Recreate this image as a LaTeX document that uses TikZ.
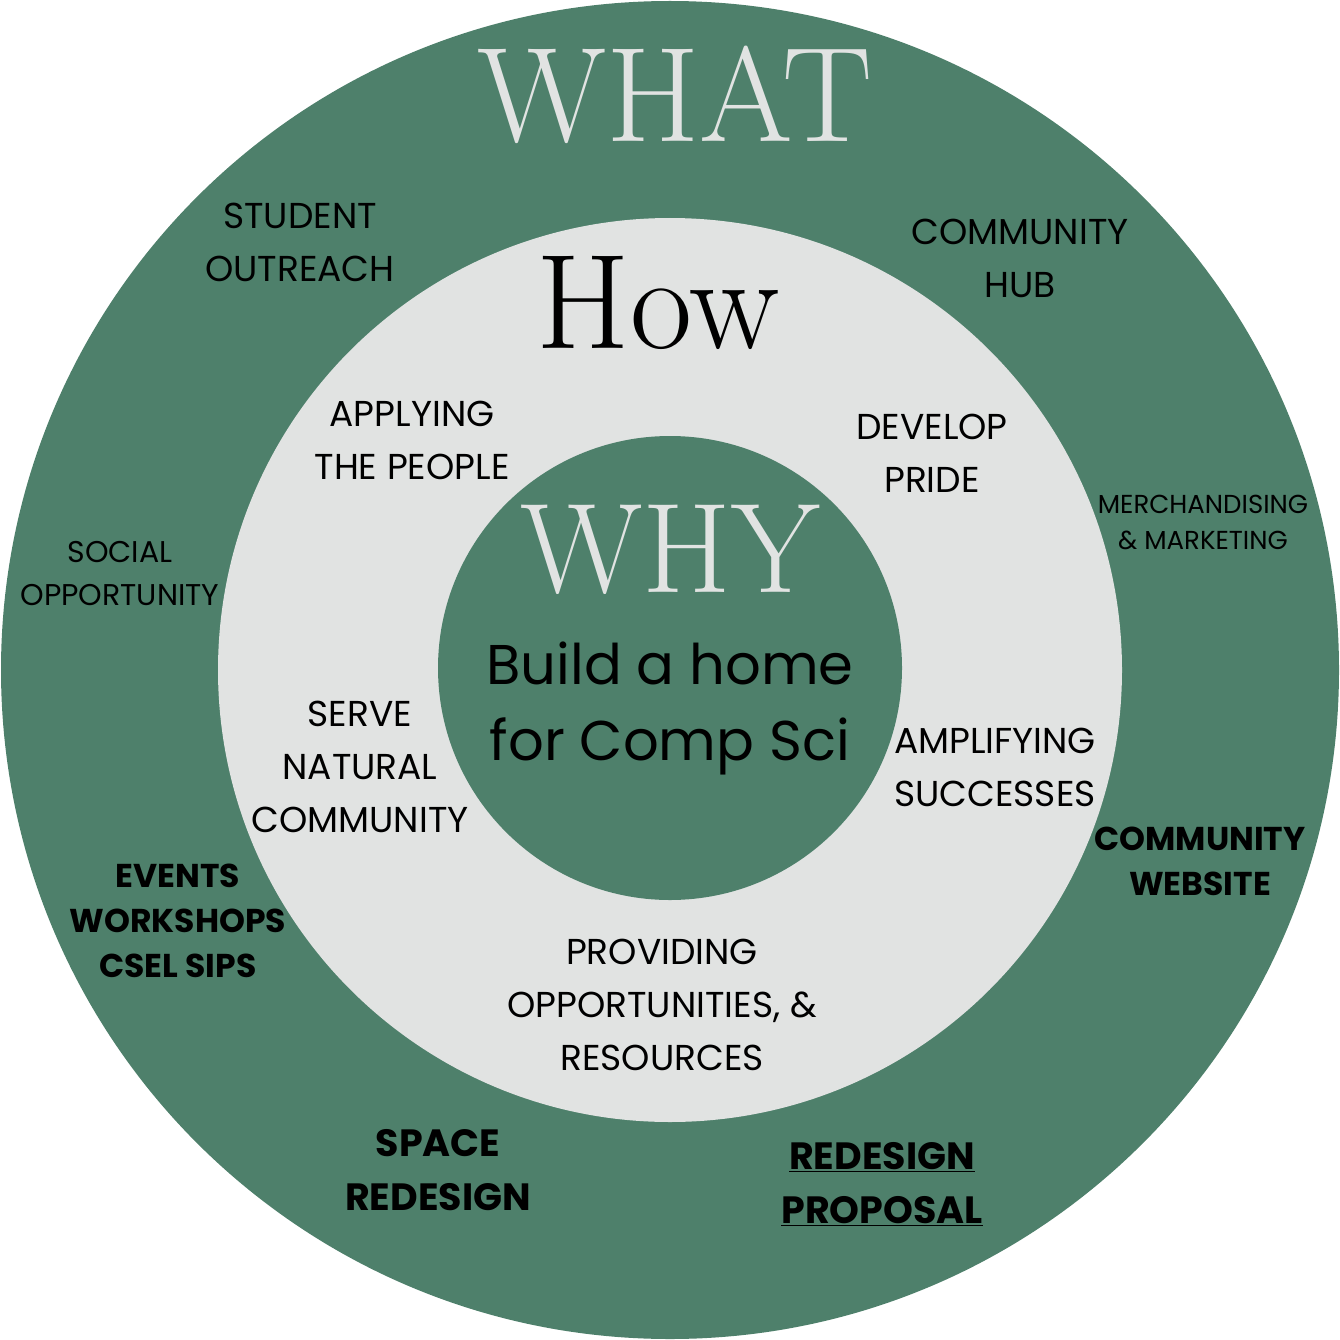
\documentclass[tikz,border=0pt]{standalone}
\usepackage{fontspec}
\setmainfont{Poppins}
\newfontfamily\serifw{Latin Modern Roman}
\definecolor{dgreen}{HTML}{4E806B}
\definecolor{lgray}{HTML}{E1E3E2}
\begin{document}
\begin{tikzpicture}[x=1pt,y=-1pt,
 lab/.style={align=center,text=black},
 big/.style={font=\serifw\fontsize{135}{135}\selectfont}]
\useasboundingbox (0,0) rectangle (1340,1340);
\fill[dgreen] (670,670) circle (669);
\fill[lgray] (670,670) circle (452);
\fill[dgreen] (670,668) circle (232);
\node[big,text=lgray] (what) at (675,95) {WHAT};
\node[big,text=black] (how) at (658,303) {How};
\node[big,text=lgray,font=\serifw\fontsize{128}{128}\selectfont] (why) at (670,550) {WHY};
\node[lab,font=\fontsize{56}{76}\selectfont] (build) at (670,708) {Build a home\\for Comp Sci};
\begin{scope}[every node/.append style={lab,font=\fontsize{36}{53}\selectfont}]
\node (so) at (300,242) {STUDENT\\OUTREACH};
\node (ch) at (1020,258) {COMMUNITY\\HUB};
\node (ap) at (412,440) {APPLYING\\THE PEOPLE};
\node (dp) at (932,453) {DEVELOP\\PRIDE};
\node (sn) at (360,767) {SERVE\\NATURAL\\COMMUNITY};
\node (am) at (995,767) {AMPLIFYING\\SUCCESSES};
\node (po) at (662,1005) {PROVIDING\\OPPORTUNITIES, \&\\RESOURCES};
\end{scope}
\node[lab,font=\fontsize{30}{43}\selectfont] (sop) at (120,574) {SOCIAL\\OPPORTUNITY};
\node[lab,font=\fontsize{26}{36}\selectfont] (mm) at (1203,522) {MERCHANDISING\\\& MARKETING};
\begin{scope}[every node/.append style={lab,font=\bfseries\fontsize{33}{45}\selectfont}]
\node (ev) at (178,921) {EVENTS\\WORKSHOPS\\CSEL SIPS};
\node (cw) at (1200,861) {COMMUNITY\\WEBSITE};
\end{scope}
\begin{scope}[every node/.append style={lab,font=\bfseries\fontsize{38}{54}\selectfont}]
\node (sr) at (438,1170) {SPACE\\REDESIGN};
\node (rp) at (882,1184) {\underline{REDESIGN}\\\underline{PROPOSAL}};
\end{scope}
\end{tikzpicture}
\end{document}
